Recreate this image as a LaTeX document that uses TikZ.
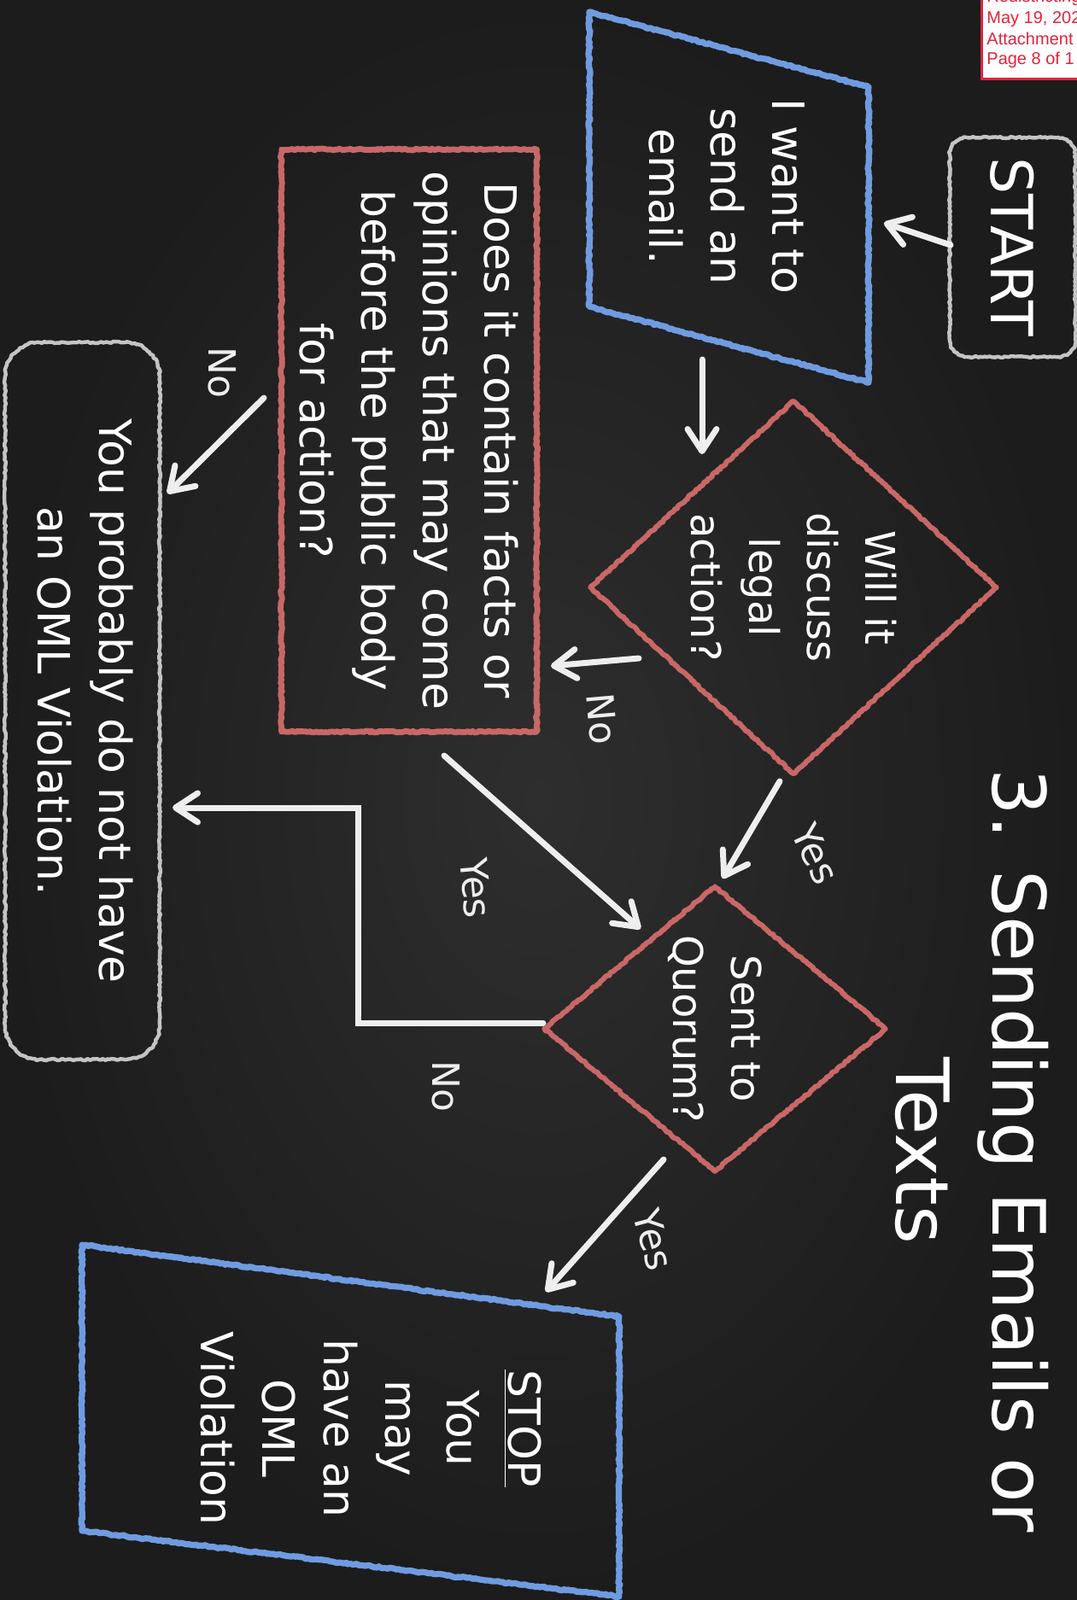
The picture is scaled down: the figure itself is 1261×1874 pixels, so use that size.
\documentclass[tikz,border=0pt]{standalone}
\usepackage{fontspec}
\setmainfont{DejaVu Sans}
\newfontfamily\stampfont{Liberation Sans}
\usetikzlibrary{shapes.geometric,arrows.meta,decorations.pathmorphing}
\definecolor{boardin}{HTML}{2E2E2E}
\definecolor{boardout}{HTML}{1C1C1C}
\definecolor{chalkblue}{HTML}{6F9BE0}
\definecolor{chalkred}{HTML}{C96767}
\definecolor{chalkgray}{HTML}{C4C4C4}
\definecolor{chalkwhite}{HTML}{EEEEEE}
\definecolor{stampred}{HTML}{E2233A}
\begin{document}
\begin{tikzpicture}[x=0.5pt,y=-0.5pt,
  rough/.style={decorate,decoration={random steps,segment length=1.3pt,amplitude=0.5pt},line join=round},
  bluechalk/.style={rough,draw=chalkblue,line width=3.6pt},
  redchalk/.style={rough,draw=chalkred,line width=3pt},
  graychalk/.style={rough,draw=chalkgray,line width=2.2pt},
  txt/.style={text=white,rotate=-90,align=center,font=\fontsize{26}{36}\selectfont,inner sep=0pt},
  dtxt/.style={txt,font=\fontsize{24}{34}\selectfont},
  lbl/.style={text=chalkwhite,font=\fontsize{22}{26}\selectfont,inner sep=0pt},
  arr/.style={draw=chalkwhite,line width=3.5pt,line cap=round,line join=miter,-{Straight Barb[round,length=13pt,width=17pt]}},
  stamptext/.style={text=stampred,font=\stampfont\fontsize{10}{12}\selectfont,inner sep=0pt,anchor=base west}
]
\clip (0,0) rectangle (1261,1874);
\shade[inner color=boardin, outer color=boardout] (0,0) rectangle (1261,1874);

% stamp
\draw[fill=white, draw=stampred, line width=1.5pt] (1149,-20) rectangle (1300,92);
\node[stamptext] (s1) at (1155,2) {Redistricting};
\node[stamptext] (s2) at (1155,27) {May 19, 202};
\node[stamptext] (s3) at (1155,52) {Attachment};
\node[stamptext] (s4) at (1155,75) {Page 8 of 1};

% title
\node[txt, font=\fontsize{43}{56.5}\selectfont] (title) at (1138,1348) {3. Sending Emails or\\Texts};

% start (rounded box drawn with arcs so that the chalk texture stays fine)
\draw[graychalk] (1132,161) -- (1239,161) arc[start angle=-90,end angle=0,radius=20]
  -- (1259,398) arc[start angle=0,end angle=90,radius=20]
  -- (1132,418) arc[start angle=90,end angle=180,radius=20]
  -- (1112,181) arc[start angle=180,end angle=270,radius=20] -- cycle;
\node[txt, minimum width=128.5pt, minimum height=73.5pt, font=\fontsize{34}{40}\selectfont] (start) at (1185.5,289.5) {START};

% input parallelogram
\draw[bluechalk] (690,14) -- (1017,102) -- (1017,448) -- (690,359) -- cycle;
\node[txt] (want) at (851,230) {I want to\\send an\\email.};

% decision 1
\node[dtxt, redchalk, diamond, aspect=0.92, minimum width=219.5pt, minimum height=239pt] (legal) at (929,688) {Will it\\discuss\\legal\\action?};

% facts box
\node[txt, redchalk, line width=3.4pt, minimum width=341pt, minimum height=149.5pt] (facts) at (479,516) {Does it contain facts or\\opinions that may come\\before the public body\\for action?};

% decision 2
\node[dtxt, redchalk, diamond, aspect=0.83, minimum width=168pt, minimum height=201pt] (quorum) at (837,1205) {Sent to\\Quorum?};

% no violation box
\draw[graychalk] (46,401) -- (147,401) arc[start angle=-90,end angle=0,radius=40]
  -- (187,1201) arc[start angle=0,end angle=90,radius=40]
  -- (46,1241) arc[start angle=90,end angle=180,radius=40]
  -- (6,441) arc[start angle=180,end angle=270,radius=40] -- cycle;
\node[txt, minimum width=420pt, minimum height=90.5pt] (noviol) at (100,821) {You probably do not have\\an OML Violation.};

% stop parallelogram
\draw[bluechalk] (96,1458) -- (725,1542) -- (725,1870) -- (96,1793) -- cycle;
\node[txt] (stop) at (434,1673) {\underline{STOP}\\You\\may\\have an\\OML\\Violation};

% connector end points
\coordinate (a1s) at (1113,287);  \coordinate (a1e) at (1035,261);
\coordinate (a2s) at (822,421);   \coordinate (a2e) at (822,532);
\coordinate (a3s) at (748,771);   \coordinate (a3e) at (645,780);
\coordinate (a4s) at (309,466);   \coordinate (a4e) at (196,578);
\coordinate (a5s) at (520,885);   \coordinate (a5e) at (750,1088);
\coordinate (a6s) at (913,915);   \coordinate (a6e) at (846,1029);
\coordinate (a7s) at (636,1198);  \coordinate (a7m) at (419,1198);
\coordinate (a7n) at (419,946);   \coordinate (a7e) at (202,946);
\coordinate (a8s) at (777,1358);  \coordinate (a8e) at (639,1513);

\draw[arr] (a1s) -- (a1e);
\draw[arr] (a2s) -- (a2e);
\draw[arr] (a3s) -- (a3e);
\draw[arr] (a4s) -- (a4e);
\draw[arr] (a5s) -- (a5e);
\draw[arr] (a6s) -- (a6e);
\draw[arr] (a7s) -- (a7m) -- (a7n) -- (a7e);
\draw[arr] (a8s) -- (a8e);

% labels
\node[lbl, rotate=-85] (lno1) at (705,842) {No};
\node[lbl, rotate=-90] (lno2) at (260,436) {No};
\node[lbl, rotate=-85] (lyes1) at (557,1040) {Yes};
\node[lbl, rotate=-65] (lyes2) at (955,1000) {Yes};
\node[lbl, rotate=-90] (lno3) at (522,1272) {No};
\node[lbl, rotate=-75] (lyes3) at (765,1452) {Yes};
\end{tikzpicture}
\end{document}
